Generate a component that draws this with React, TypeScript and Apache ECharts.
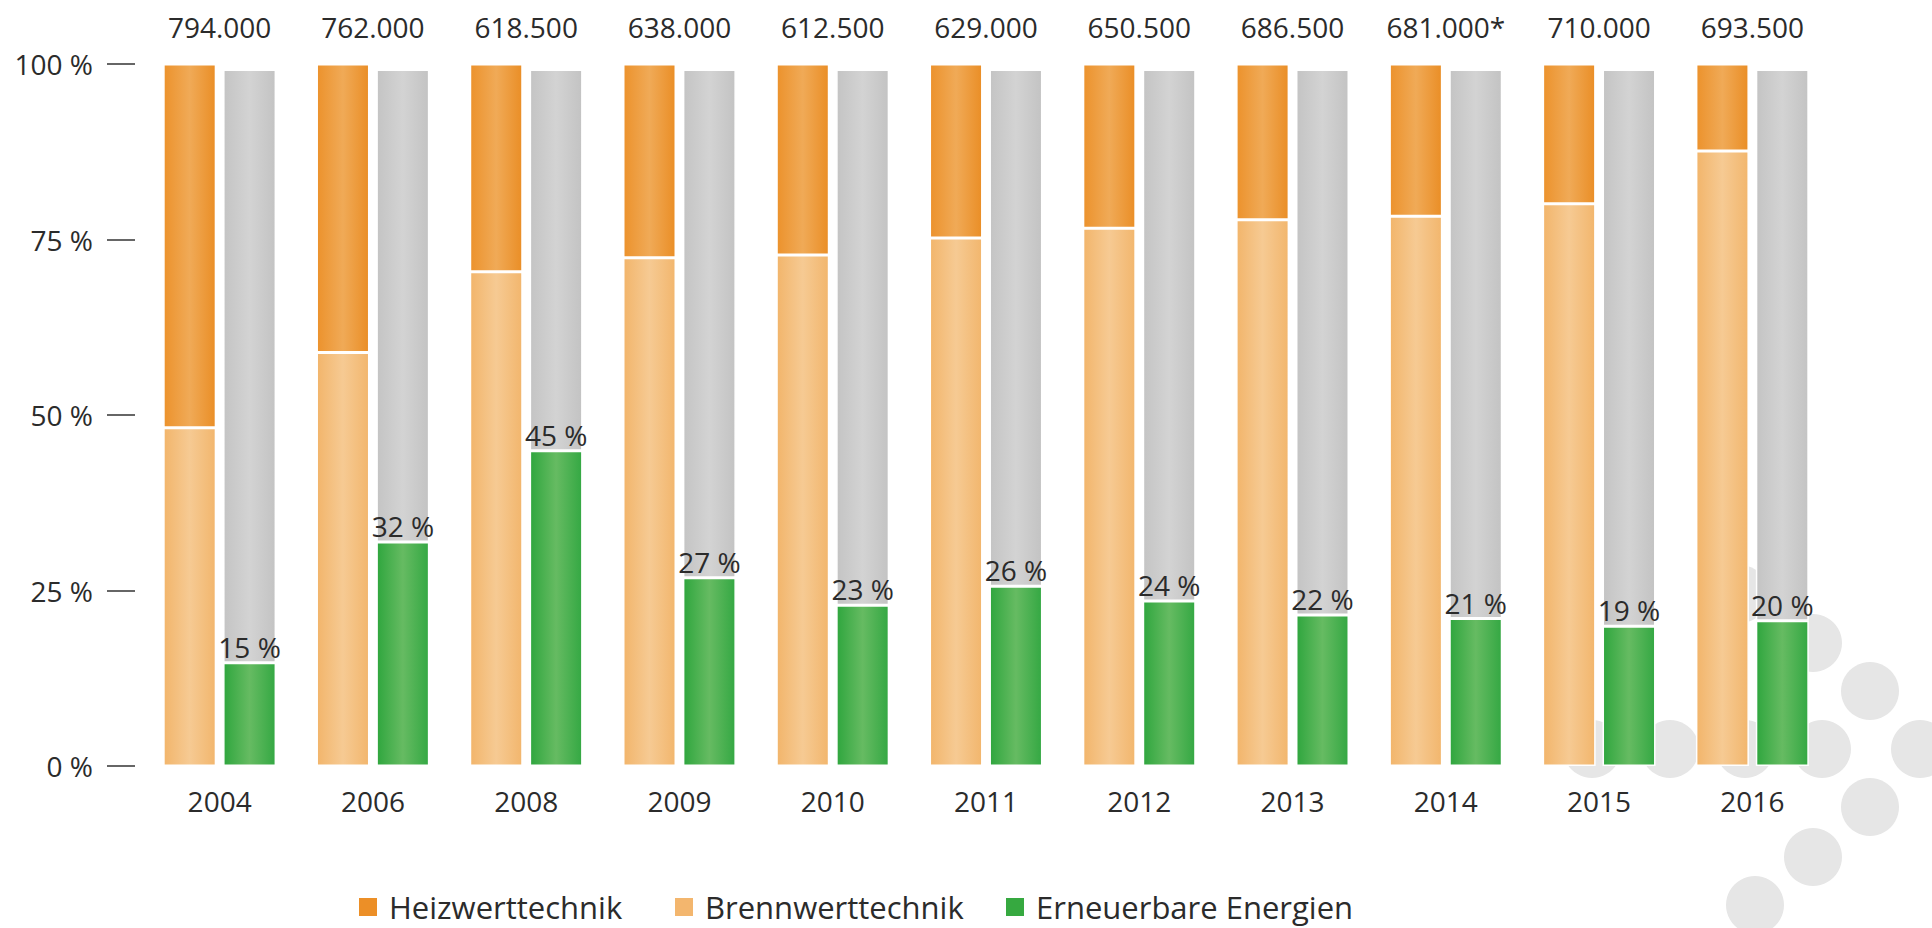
import React, { useEffect, useRef } from "react";
import * as echarts from "echarts";

// ---- data ----
const years = ["2004", "2006", "2008", "2009", "2010", "2011", "2012", "2013", "2014", "2015", "2016"];
const totals = ["794.000", "762.000", "618.500", "638.000", "612.500", "629.000", "650.500", "686.500", "681.000*", "710.000", "693.500"];
const heizwert = [51.8, 41.1, 29.6, 27.6, 27.2, 24.8, 23.4, 22.2, 21.7, 19.9, 12.4];
const brennwert = [48.2, 58.9, 70.4, 72.4, 72.8, 75.2, 76.6, 77.8, 78.3, 80.1, 87.6];
const erneuerbar = [14.7, 31.9, 44.9, 26.8, 22.9, 25.6, 23.5, 21.5, 21.0, 19.9, 20.7];
const erneuerbarLabels = [15, 32, 45, 27, 23, 26, 24, 22, 21, 19, 20];
const yTicks = [0, 25, 50, 75, 100];
const grayTop = 99.2;
const rest = erneuerbar.map((v) => +(grayTop - v).toFixed(1));

// decorative logo dots (background)
const logoDots = [
  [1740, 594], [1813, 643], [1870, 691], [1920, 749], [1822, 749], [1745, 749],
  [1670, 749], [1592, 749], [1870, 807], [1813, 857], [1755, 905],
];

const FONT = "Open Sans";
const TEXT = "#2b2b2b";

const grad = (a: string, b: string, c: string) => ({
  type: "linear",
  x: 0, y: 0, x2: 1, y2: 0,
  colorStops: [
    { offset: 0, color: a },
    { offset: 0.5, color: b },
    { offset: 1, color: c },
  ],
});

export default function App() {
  const ref = useRef<HTMLDivElement>(null);
  useEffect(() => {
    const chart = echarts.init(ref.current!, null, { renderer: "svg" });
    const legendBase = {
      top: 891,
      padding: 0,
      itemWidth: 20,
      itemHeight: 20,
      icon: "rect",
      selectedMode: false,
      textStyle: { fontFamily: FONT, fontSize: 31, color: TEXT, lineHeight: 32, padding: [0, 0, 0, 6] },
    };
    chart.setOption({
      animation: false,
      backgroundColor: "#ffffff",
      textStyle: { fontFamily: FONT },
      grid: { left: 143, right: 103, top: 64, bottom: 162, containLabel: false },
      graphic: logoDots.map(([x, y]) => ({
        type: "circle",
        z: 0,
        shape: { cx: x, cy: y, r: 29 },
        style: { fill: "#e6e6e6" },
        silent: true,
      })),
      legend: [
        { ...legendBase, left: 357, data: [{ name: "Heizwerttechnik", itemStyle: { color: "#ec8f27" } }] },
        { ...legendBase, left: 673, data: [{ name: "Brennwerttechnik", itemStyle: { color: "#f3b66e" } }] },
        { ...legendBase, left: 1004, data: [{ name: "Erneuerbare Energien", itemStyle: { color: "#36a940" } }] },
      ],
      xAxis: [
        {
          type: "category",
          data: years,
          position: "bottom",
          axisLine: { show: false },
          axisTick: { show: false },
          axisLabel: { interval: 0, fontFamily: FONT, fontSize: 28, color: TEXT, margin: 21, lineHeight: 28 },
        },
        {
          type: "category",
          data: totals,
          position: "top",
          axisLine: { show: false },
          axisTick: { show: false },
          axisLabel: { interval: 0, fontFamily: FONT, fontSize: 28, color: TEXT, margin: 23, lineHeight: 28 },
        },
      ],
      yAxis: {
        type: "value",
        min: yTicks[0],
        max: yTicks[yTicks.length - 1],
        interval: 25,
        offset: 8,
        splitLine: { show: false },
        axisLine: { show: false },
        axisTick: { show: true, length: 28, lineStyle: { color: "#333333", width: 1.5 } },
        axisLabel: {
          fontFamily: FONT,
          fontSize: 28,
          color: TEXT,
          margin: 42,
          lineHeight: 28,
          padding: [10, 0, 0, 0],
          formatter: (v: number) => `${v} %`,
        },
      },
      series: [
        {
          name: "Brennwerttechnik",
          type: "bar",
          stack: "a",
          xAxisIndex: 0,
          barWidth: 53,
          barGap: "13%",
          data: brennwert,
          itemStyle: { color: grad("#f2b56b", "#f6ca93", "#f2b66d"), borderColor: "#ffffff", borderWidth: 1.5 },
        },
        {
          name: "Heizwerttechnik",
          type: "bar",
          stack: "a",
          xAxisIndex: 0,
          barWidth: 53,
          barGap: "13%",
          data: heizwert,
          itemStyle: { color: grad("#ec922c", "#f0aa57", "#ea8e26"), borderColor: "#ffffff", borderWidth: 1.5 },
        },
        {
          name: "Erneuerbare Energien",
          type: "bar",
          stack: "b",
          xAxisIndex: 0,
          barWidth: 53,
          barGap: "13%",
          z: 3,
          data: erneuerbar,
          itemStyle: { color: grad("#2fa63e", "#66bb62", "#34a843"), borderColor: "#ffffff", borderWidth: 1.5 },
          label: {
            show: true,
            position: "top",
            distance: 2,
            fontFamily: FONT,
            fontSize: 28,
            color: TEXT,
            formatter: (p: any) => `${erneuerbarLabels[p.dataIndex]} %`,
          },
        },
        {
          name: "Rest",
          type: "bar",
          stack: "b",
          xAxisIndex: 0,
          barWidth: 53,
          barGap: "13%",
          data: rest,
          itemStyle: { color: grad("#c4c4c4", "#d3d3d3", "#c3c3c3"), borderColor: "#ffffff", borderWidth: 1.5 },
        },
      ],
    });
    return () => chart.dispose();
  }, []);
  return (
    <div
      ref={ref}
      style={{ position: "fixed", left: 0, top: 0, width: 1932, height: 928, background: "#ffffff" }}
    />
  );
}
